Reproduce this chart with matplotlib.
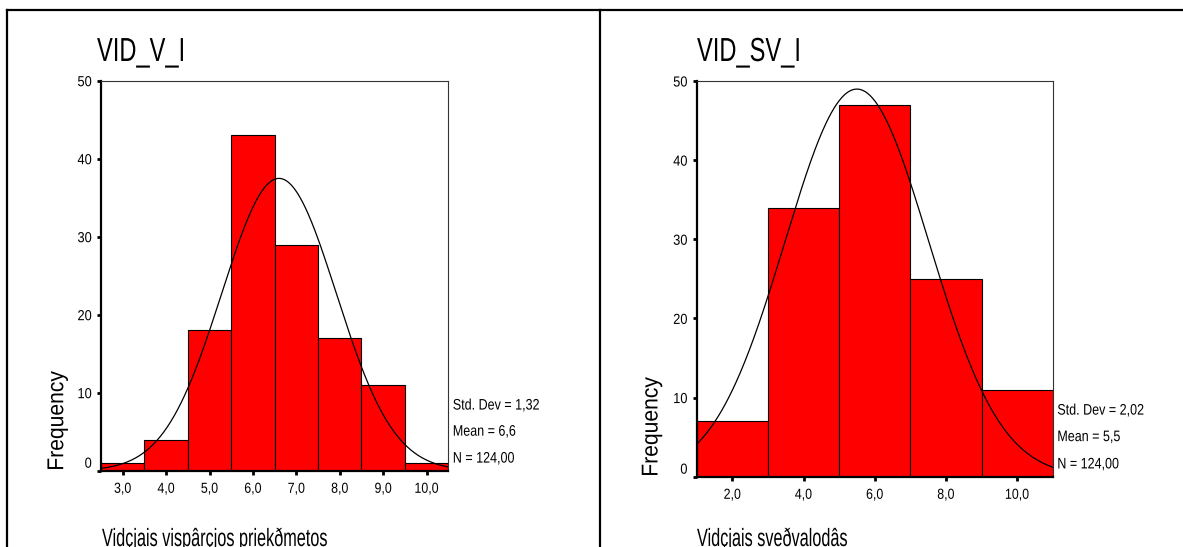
import numpy as np
import matplotlib
matplotlib.use('Agg')
import matplotlib.pyplot as plt
import matplotlib.patheffects as pe
from matplotlib.transforms import Affine2D
from matplotlib.lines import Line2D

# VID_V_I histogram
v_edges = [2.5, 3.5, 4.5, 5.5, 6.5, 7.5, 8.5, 9.5, 10.5]
v_counts = [1, 4, 18, 43, 29, 17, 11, 1]
v_mean, v_sd, v_n = 6.6, 1.32, 124
v_xticks = [3, 4, 5, 6, 7, 8, 9, 10]

# VID_SV_I histogram
sv_edges = [1, 3, 5, 7, 9, 11]
sv_counts = [7, 34, 47, 25, 11]
sv_mean, sv_sd, sv_n = 5.5, 2.02, 124
sv_xticks = [2, 4, 6, 8, 10]

yticks = [0, 10, 20, 30, 40, 50]

W, H = 1183, 547
plt.rcParams['font.family'] = ['Liberation Sans', 'DejaVu Sans']
fig = plt.figure(figsize=(W / 100, H / 100), dpi=100)


class Squeeze(pe.AbstractPathEffect):
    # narrow the glyphs along the baseline (condensed look of the spss export)
    def __init__(self, sx, anchor=0.0):
        super().__init__()
        self.sx = sx
        self.anchor = anchor

    def draw_path(self, renderer, gc, tpath, affine, rgbFace=None):
        ext = tpath.get_extents()
        x0 = ext.x0 + self.anchor * ext.width if self.anchor else 0.0
        sq = Affine2D().translate(-x0, 0).scale(self.sx, 1).translate(x0, 0)
        renderer.draw_path(gc, tpath, sq + affine, rgbFace)


def comma(v, nd):
    return f'{v:.{nd}f}'.replace('.', ',')


def panel(box, edges, counts, mean, sd, n, xticks, title, xlabel, tx, fx, lx):
    x0, y0, x1, y1 = box
    ax = fig.add_axes([x0 / W, 1 - y1 / H, (x1 - x0) / W, (y1 - y0) / H])
    edges = np.array(edges, dtype=float)
    widths = np.diff(edges)
    ax.bar(edges[:-1], counts, width=widths, align='edge', color='#ff0000',
           edgecolor='black', linewidth=0.8, zorder=2)

    # normal curve scaled to the counts
    xs = np.linspace(edges[0], edges[-1], 400)
    ys = n * widths[0] / (sd * np.sqrt(2 * np.pi)) * np.exp(-0.5 * ((xs - mean) / sd) ** 2)
    ax.plot(xs, ys, color='black', linewidth=0.9, zorder=3)

    ax.set_xlim(edges[0], edges[-1])
    ax.set_ylim(0, 50)
    ax.set_xticks(xticks)
    ax.set_xticklabels([comma(t, 1) for t in xticks])
    ax.set_yticks(yticks)
    ax.set_yticklabels([str(t) for t in yticks])
    ax.tick_params(direction='out', length=3, width=2, labelsize=10.5, color='black')
    ax.tick_params(axis='x', pad=5)
    ax.tick_params(axis='y', pad=3.5)
    for s in ['left', 'bottom']:
        ax.spines[s].set_linewidth(1.6)
    for s in ['top', 'right']:
        ax.spines[s].set_linewidth(0.8)
        ax.spines[s].set_color('#333333')
    for lab in ax.get_xticklabels():
        lab.set_path_effects([Squeeze(0.85, 0.5)])
    for lab in ax.get_yticklabels():
        lab.set_path_effects([Squeeze(0.88, 1.0)])
    ax.get_yticklabels()[0].set_va('bottom')

    stats = [f'Std. Dev = {comma(sd, 2)}', f'Mean = {comma(mean, 1)}', f'N = {comma(n, 2)}']
    for fy, s in zip([0.167, 0.10, 0.031], stats):
        ax.text(1.013, fy, s, transform=ax.transAxes, fontsize=11, va='center',
                ha='left', path_effects=[Squeeze(0.82)])

    fig.text(tx / W, 1 - 61 / H, title, fontsize=24, va='baseline',
             path_effects=[Squeeze(0.71)])
    fig.text(fx / W, 1 - y1 / H, 'Frequency', rotation=90, fontsize=16.5,
             ha='center', va='bottom', path_effects=[Squeeze(0.92)])
    fig.text(lx / W, 1 - 546 / H, xlabel, fontsize=18, va='baseline',
             path_effects=[Squeeze(0.65)])
    return ax


panel((101, 80.7, 448.3, 470.7), v_edges, v_counts, v_mean, v_sd, v_n, v_xticks,
      'VID_V_I', 'Vidçjais vispârçjos priekðmetos', 97, 56.7, 102)
panel((696.7, 81, 1052.7, 476.7), sv_edges, sv_counts, sv_mean, sv_sd, sv_n, sv_xticks,
      'VID_SV_I', 'Vidçjais sveðvalodâs', 697, 651, 697)

# table frame around the two charts
top = 1 - 10 / H
for xs, ys in [([6.5 / W, 6.5 / W], [0, top]),
               ([600 / W, 600 / W], [0, top]),
               ([6.5 / W, 1], [top, top])]:
    fig.add_artist(Line2D(xs, ys, color='black', linewidth=1.6, transform=fig.transFigure))

fig.savefig('out.png', dpi=100)
